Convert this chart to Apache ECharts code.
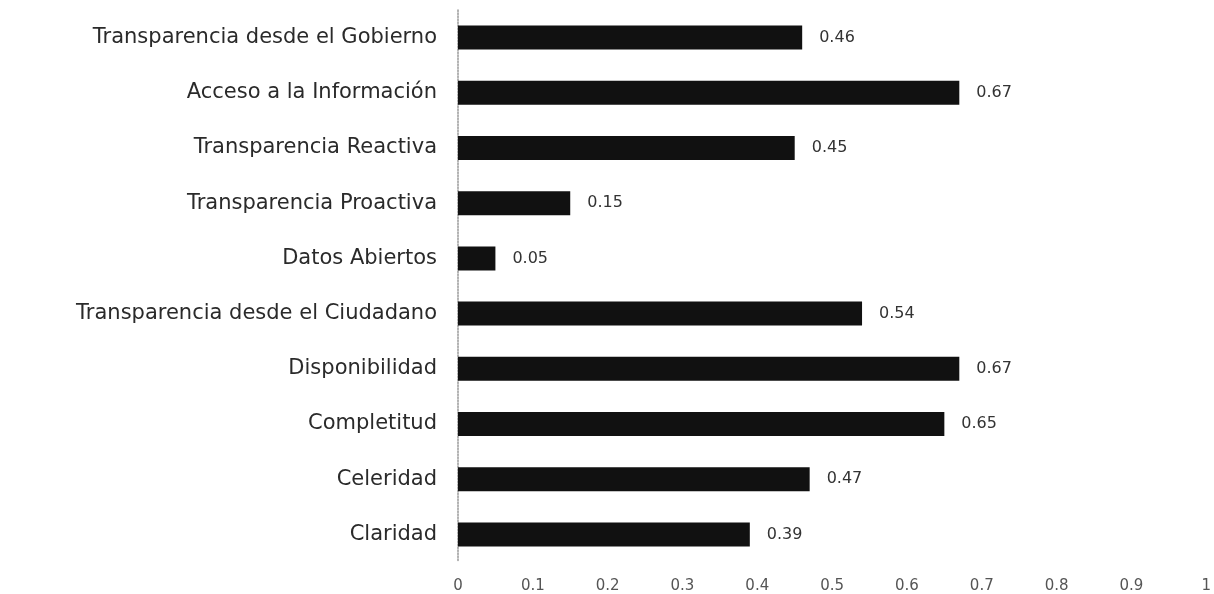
<!DOCTYPE html>
<html><head><meta charset="utf-8">
<script src="https://cdn.jsdelivr.net/npm/echarts@6/dist/echarts.min.js"></script>
<style>html,body{margin:0;padding:0;background:#fff}#c{width:1214px;height:594px}</style>
</head><body><div id="c"></div>
<script>
const categories = ["Transparencia desde el Gobierno","Acceso a la Información","Transparencia Reactiva","Transparencia Proactiva","Datos Abiertos","Transparencia desde el Ciudadano","Disponibilidad","Completitud","Celeridad","Claridad"];
const values = [0.46,0.67,0.45,0.15,0.05,0.54,0.67,0.65,0.47,0.39];
const xTicks = [0,0.1,0.2,0.3,0.4,0.5,0.6,0.7,0.8,0.9,1];

const chart = echarts.init(document.getElementById('c'));
chart.setOption({
  animation:false,
  grid:{left:458,right:5,top:10,bottom:31},
  xAxis:{type:'value',min:0,max:1,interval:0.1,
    axisLine:{show:false},axisTick:{show:false},splitLine:{show:false},
    axisLabel:{color:'#555',fontFamily:'DejaVu Sans',fontSize:15,margin:17,
      formatter:v=>{const t=xTicks.find(x=>Math.abs(x-v)<1e-9);return t===undefined?'':String(t);}}},
  yAxis:{type:'category',data:categories,inverse:true,
    axisLine:{show:true,lineStyle:{color:'#999',width:1.5,type:'dotted'}},
    axisTick:{show:false},
    axisLabel:{color:'#2a2a2a',fontFamily:'DejaVu Sans',fontSize:21,margin:21}},
  series:[{type:'bar',data:values,barWidth:24,
    itemStyle:{color:'#111'},
    label:{show:true,position:'right',distance:17,color:'#333',fontFamily:'DejaVu Sans',fontSize:16,
      formatter:p=>String(p.value)}}]
});
</script></body></html>
